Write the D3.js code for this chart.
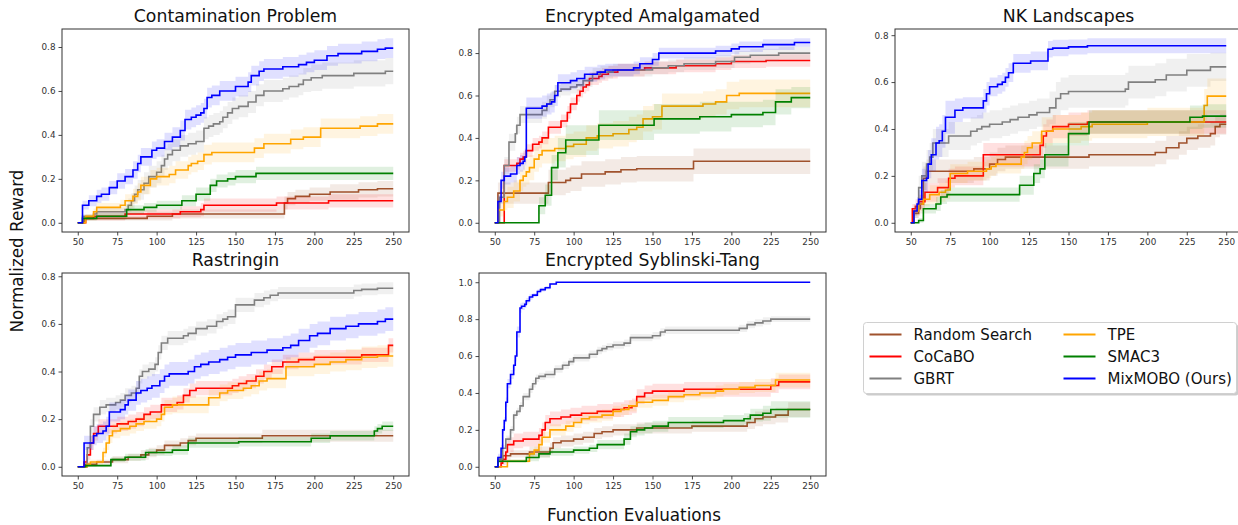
<!DOCTYPE html>
<html lang="en">
<head>
<meta charset="UTF-8">
<script src="https://cdnjs.cloudflare.com/ajax/libs/d3/7.8.5/d3.min.js"></script>
<title>Normalized Reward</title>
<style>
  body { margin: 0; background: #fff; }
  text { font-family: "DejaVu Sans", sans-serif; }
</style>
</head>
<body>
<script>
// methods in plotting order
const methods = ["Random Search", "CoCaBO", "GBRT", "TPE", "SMAC3", "MixMOBO (Ours)"];
const colors = ["#a0522d", "#ff0000", "#808080", "#ffa500", "#008000", "#0000ff"];

const xTicks = [50, 75, 100, 125, 150, 175, 200, 225, 250];
const yTicks = [0, 0.2, 0.4, 0.6, 0.8];
const yTicksSyb = [0, 0.2, 0.4, 0.6, 0.8, 1.0];

const titles = ["Contamination Problem", "Encrypted Amalgamated", "NK Landscapes",
                "Rastringin", "Encrypted Syblinski-Tang"];

// each series: [evaluation, mean reward, half band width], step after
const contamination = [
  [[50,0,0],[54,0.02,0.01],[94,0.03,0.02],[110,0.04,0.02],[181,0.09,0.03],[183,0.11,0.03],[188,0.12,0.03],[197,0.13,0.03],[210,0.14,0.035],[228,0.15,0.035],[240,0.155,0.035]],
  [[50,0,0],[55,0.02,0.01],[60,0.03,0.02],[80,0.04,0.02],[115,0.05,0.025],[128,0.06,0.03],[130,0.08,0.03],[176,0.09,0.03],[209,0.1,0.03]],
  [[50,0,0],[53,0.03,0.01],[60,0.04,0.015],[62,0.05,0.02],[80,0.06,0.025],[82,0.08,0.03],[84,0.1,0.035],[86,0.13,0.04],[88,0.15,0.045],[92,0.18,0.05],[95,0.21,0.05],[100,0.23,0.05],[103,0.26,0.05],[105,0.29,0.05],[107,0.31,0.05],[110,0.33,0.05],[115,0.35,0.05],[120,0.36,0.05],[125,0.37,0.05],[130,0.43,0.05],[133,0.44,0.05],[136,0.45,0.05],[140,0.46,0.05],[142,0.48,0.05],[145,0.5,0.05],[148,0.52,0.05],[152,0.53,0.05],[158,0.55,0.05],[163,0.58,0.05],[168,0.6,0.05],[180,0.61,0.05],[184,0.62,0.05],[190,0.63,0.05],[193,0.65,0.055],[198,0.66,0.06],[205,0.67,0.06],[225,0.68,0.06],[245,0.69,0.06]],
  [[50,0,0],[55,0.03,0.01],[60,0.05,0.015],[62,0.07,0.02],[77,0.08,0.025],[80,0.1,0.03],[85,0.12,0.035],[88,0.14,0.04],[90,0.17,0.04],[96,0.2,0.04],[100,0.21,0.04],[108,0.22,0.04],[112,0.24,0.04],[120,0.26,0.04],[122,0.27,0.04],[126,0.28,0.04],[130,0.31,0.045],[135,0.32,0.045],[162,0.34,0.045],[168,0.36,0.045],[185,0.38,0.045],[193,0.39,0.045],[204,0.43,0.045],[229,0.44,0.045],[240,0.45,0.045]],
  [[50,0,0],[53,0.02,0.01],[62,0.03,0.015],[81,0.06,0.02],[92,0.07,0.02],[100,0.08,0.02],[116,0.1,0.025],[125,0.13,0.03],[134,0.17,0.03],[138,0.19,0.03],[145,0.2,0.03],[150,0.21,0.03],[163,0.225,0.03]],
  [[50,0,0],[53,0.08,0.02],[57,0.1,0.025],[62,0.12,0.03],[65,0.13,0.03],[70,0.16,0.03],[75,0.19,0.035],[80,0.21,0.035],[85,0.24,0.04],[88,0.27,0.04],[90,0.3,0.04],[97,0.33,0.04],[100,0.34,0.04],[105,0.37,0.04],[110,0.39,0.045],[115,0.42,0.045],[118,0.47,0.045],[122,0.48,0.045],[125,0.49,0.045],[128,0.5,0.045],[130,0.52,0.045],[132,0.57,0.045],[135,0.58,0.045],[140,0.6,0.045],[150,0.62,0.045],[158,0.64,0.045],[160,0.67,0.045],[165,0.69,0.045],[168,0.7,0.045],[180,0.71,0.045],[190,0.72,0.045],[195,0.73,0.045],[200,0.74,0.045],[208,0.76,0.045],[215,0.77,0.045],[230,0.78,0.045],[240,0.79,0.045],[245,0.795,0.045]]
];

const amalgamated = [
  [[50,0,0],[52,0.14,0.05],[84,0.19,0.06],[95,0.2,0.06],[98,0.21,0.06],[105,0.23,0.06],[120,0.24,0.06],[130,0.25,0.06],[140,0.255,0.06],[176,0.29,0.06]],
  [[50,0,0],[56,0.27,0.03],[64,0.28,0.03],[66,0.3,0.03],[68,0.31,0.03],[70,0.34,0.03],[74,0.37,0.03],[78,0.38,0.03],[80,0.4,0.03],[84,0.45,0.03],[92,0.48,0.03],[96,0.52,0.03],[98,0.56,0.03],[102,0.6,0.03],[104,0.62,0.03],[106,0.64,0.03],[108,0.65,0.03],[110,0.68,0.03],[116,0.69,0.03],[118,0.7,0.03],[122,0.71,0.03],[128,0.72,0.03],[145,0.73,0.03],[165,0.74,0.03],[190,0.75,0.03],[200,0.76,0.03],[222,0.765,0.03]],
  [[50,0,0],[53,0.12,0.03],[56,0.27,0.04],[59,0.38,0.04],[63,0.42,0.04],[64,0.46,0.04],[66,0.51,0.04],[80,0.53,0.04],[83,0.56,0.04],[85,0.58,0.035],[88,0.62,0.03],[92,0.63,0.03],[98,0.64,0.03],[102,0.65,0.03],[106,0.67,0.03],[112,0.7,0.03],[117,0.71,0.03],[125,0.72,0.03],[150,0.73,0.03],[160,0.74,0.03],[170,0.75,0.03],[190,0.76,0.03],[202,0.78,0.03],[212,0.79,0.03],[230,0.8,0.03]],
  [[50,0,0],[52,0.06,0.03],[56,0.1,0.04],[58,0.12,0.05],[62,0.15,0.05],[66,0.2,0.05],[68,0.22,0.05],[70,0.24,0.06],[72,0.26,0.06],[75,0.3,0.06],[78,0.32,0.06],[80,0.34,0.06],[88,0.35,0.06],[95,0.36,0.06],[100,0.37,0.06],[108,0.4,0.06],[115,0.41,0.06],[125,0.42,0.06],[135,0.44,0.06],[140,0.45,0.06],[144,0.49,0.06],[150,0.5,0.06],[156,0.55,0.06],[182,0.56,0.06],[190,0.57,0.06],[197,0.6,0.065],[205,0.61,0.065]],
  [[50,0,0],[78,0.08,0.04],[82,0.13,0.05],[86,0.26,0.06],[90,0.33,0.07],[95,0.39,0.07],[116,0.46,0.07],[151,0.49,0.07],[180,0.5,0.07],[200,0.51,0.06],[220,0.52,0.06],[228,0.57,0.06],[238,0.59,0.05]],
  [[50,0,0],[52,0.1,0.03],[54,0.2,0.04],[56,0.22,0.04],[60,0.23,0.04],[64,0.27,0.04],[66,0.28,0.04],[68,0.29,0.04],[69,0.31,0.04],[70,0.54,0.05],[80,0.55,0.05],[83,0.56,0.05],[86,0.57,0.05],[88,0.6,0.05],[90,0.66,0.04],[98,0.67,0.04],[102,0.68,0.04],[107,0.7,0.035],[115,0.71,0.035],[120,0.72,0.03],[138,0.73,0.03],[142,0.75,0.03],[150,0.77,0.03],[154,0.8,0.025],[190,0.81,0.025],[200,0.82,0.025],[205,0.83,0.025],[220,0.84,0.025],[240,0.85,0.02]]
];

const nkLandscapes = [
  [[50,0,0],[52,0.04,0.02],[55,0.06,0.03],[56,0.08,0.04],[58,0.19,0.05],[60,0.22,0.05],[90,0.23,0.05],[100,0.25,0.05],[105,0.27,0.05],[110,0.28,0.05],[163,0.29,0.05],[205,0.3,0.05],[212,0.32,0.05],[220,0.34,0.05],[225,0.36,0.05],[232,0.37,0.05],[240,0.38,0.05],[243,0.41,0.045],[246,0.42,0.045]],
  [[50,0,0],[51,0.06,0.02],[53,0.07,0.03],[55,0.09,0.03],[59,0.13,0.04],[67,0.15,0.04],[74,0.19,0.04],[78,0.2,0.04],[96,0.29,0.05],[132,0.33,0.05],[134,0.37,0.05],[136,0.39,0.05],[140,0.41,0.05],[150,0.42,0.05],[162,0.43,0.05]],
  [[50,0,0],[52,0.05,0.03],[55,0.15,0.05],[57,0.2,0.06],[60,0.25,0.06],[62,0.28,0.06],[64,0.34,0.06],[74,0.37,0.06],[88,0.39,0.06],[92,0.4,0.06],[95,0.41,0.06],[100,0.42,0.06],[108,0.43,0.06],[113,0.44,0.06],[118,0.45,0.06],[125,0.46,0.06],[130,0.47,0.06],[138,0.49,0.07],[142,0.53,0.07],[145,0.55,0.07],[150,0.56,0.07],[186,0.57,0.07],[188,0.6,0.07],[205,0.61,0.07],[212,0.63,0.07],[225,0.65,0.07],[240,0.665,0.06]],
  [[50,0,0],[52,0.05,0.02],[55,0.08,0.03],[58,0.1,0.03],[62,0.12,0.04],[68,0.13,0.04],[72,0.14,0.04],[75,0.21,0.04],[86,0.22,0.04],[98,0.23,0.04],[101,0.24,0.04],[104,0.25,0.04],[120,0.28,0.05],[122,0.3,0.05],[124,0.32,0.05],[127,0.34,0.05],[133,0.39,0.06],[140,0.4,0.06],[158,0.41,0.06],[165,0.42,0.06],[200,0.43,0.06],[236,0.5,0.07],[238,0.54,0.075]],
  [[50,0,0],[55,0.01,0.01],[58,0.06,0.02],[66,0.08,0.03],[69,0.11,0.03],[73,0.12,0.03],[119,0.16,0.04],[128,0.21,0.04],[132,0.23,0.04],[135,0.29,0.05],[150,0.38,0.05],[163,0.43,0.05],[227,0.45,0.05],[235,0.455,0.05]],
  [[50,0,0],[52,0.05,0.02],[54,0.08,0.03],[55,0.1,0.04],[57,0.18,0.05],[60,0.19,0.06],[61,0.25,0.06],[63,0.29,0.07],[66,0.34,0.07],[68,0.35,0.07],[70,0.39,0.07],[72,0.45,0.07],[78,0.48,0.05],[83,0.49,0.045],[96,0.52,0.05],[98,0.55,0.05],[100,0.58,0.04],[105,0.59,0.04],[108,0.6,0.04],[110,0.62,0.04],[112,0.64,0.04],[115,0.68,0.04],[126,0.69,0.04],[137,0.74,0.035],[140,0.745,0.035],[150,0.75,0.032],[162,0.755,0.032]]
];

const rastringin = [
  [[50,0,0],[55,0.01,0.01],[62,0.02,0.01],[72,0.03,0.015],[82,0.04,0.015],[90,0.05,0.02],[95,0.06,0.02],[100,0.07,0.02],[105,0.09,0.02],[115,0.1,0.02],[120,0.11,0.02],[125,0.12,0.02],[167,0.13,0.025]],
  [[50,0,0],[54,0.02,0.01],[56,0.05,0.02],[58,0.1,0.03],[60,0.14,0.03],[63,0.17,0.03],[75,0.18,0.03],[82,0.19,0.03],[87,0.2,0.03],[92,0.22,0.03],[96,0.23,0.03],[103,0.26,0.03],[113,0.27,0.03],[117,0.3,0.03],[121,0.32,0.03],[125,0.33,0.03],[148,0.34,0.03],[152,0.35,0.03],[157,0.36,0.03],[163,0.38,0.03],[168,0.4,0.03],[173,0.42,0.03],[180,0.44,0.03],[190,0.45,0.03],[200,0.46,0.03],[230,0.47,0.03],[247,0.51,0.03]],
  [[50,0,0],[56,0.08,0.02],[58,0.17,0.03],[60,0.22,0.03],[64,0.25,0.03],[68,0.26,0.03],[74,0.27,0.03],[77,0.28,0.03],[80,0.3,0.03],[84,0.31,0.03],[87,0.33,0.03],[89,0.38,0.03],[91,0.4,0.03],[95,0.41,0.03],[99,0.43,0.03],[101,0.48,0.03],[103,0.52,0.03],[107,0.54,0.03],[117,0.55,0.03],[120,0.56,0.03],[125,0.58,0.03],[132,0.59,0.03],[138,0.61,0.03],[142,0.62,0.03],[145,0.63,0.03],[150,0.68,0.03],[162,0.7,0.03],[168,0.71,0.03],[172,0.72,0.025],[177,0.73,0.025],[225,0.74,0.025],[230,0.745,0.025],[240,0.75,0.025]],
  [[50,0,0],[56,0.01,0.01],[58,0.02,0.01],[66,0.06,0.02],[68,0.1,0.03],[70,0.13,0.03],[72,0.15,0.03],[77,0.16,0.03],[83,0.17,0.03],[87,0.18,0.03],[92,0.19,0.03],[100,0.2,0.03],[103,0.22,0.03],[105,0.25,0.03],[110,0.26,0.035],[133,0.29,0.035],[140,0.31,0.035],[145,0.32,0.035],[155,0.33,0.035],[160,0.34,0.035],[165,0.36,0.04],[170,0.37,0.04],[182,0.42,0.04],[200,0.43,0.04],[210,0.44,0.04],[220,0.45,0.045],[230,0.46,0.045],[240,0.465,0.045]],
  [[50,0,0],[55,0.005,0.005],[71,0.03,0.01],[80,0.04,0.015],[93,0.06,0.015],[110,0.07,0.02],[120,0.1,0.02],[152,0.105,0.02],[198,0.12,0.02],[210,0.13,0.02],[238,0.15,0.02],[240,0.16,0.02],[243,0.17,0.02]],
  [[50,0,0],[54,0.1,0.03],[60,0.13,0.04],[62,0.14,0.04],[66,0.15,0.04],[68,0.17,0.04],[70,0.23,0.04],[77,0.24,0.04],[80,0.26,0.04],[82,0.28,0.045],[87,0.31,0.05],[90,0.32,0.05],[94,0.33,0.05],[97,0.34,0.05],[102,0.36,0.05],[105,0.38,0.05],[108,0.39,0.05],[120,0.4,0.05],[124,0.42,0.05],[128,0.43,0.05],[133,0.44,0.05],[140,0.45,0.05],[145,0.46,0.05],[150,0.47,0.05],[160,0.48,0.05],[170,0.49,0.05],[180,0.5,0.05],[185,0.51,0.05],[190,0.53,0.05],[197,0.55,0.05],[202,0.56,0.05],[210,0.58,0.05],[220,0.59,0.05],[228,0.6,0.05],[240,0.61,0.05],[245,0.62,0.05]]
];

const syblinskiTang = [
  [[50,0,0],[52,0.04,0.02],[55,0.06,0.02],[60,0.07,0.02],[72,0.08,0.03],[85,0.1,0.03],[87,0.13,0.03],[92,0.14,0.03],[100,0.15,0.03],[106,0.16,0.03],[113,0.18,0.03],[118,0.19,0.03],[125,0.2,0.03],[140,0.21,0.03],[175,0.22,0.03],[210,0.24,0.035],[215,0.26,0.04],[220,0.27,0.04],[228,0.28,0.04],[236,0.31,0.04]],
  [[50,0,0],[54,0.02,0.02],[55,0.04,0.03],[57,0.08,0.04],[58,0.12,0.04],[62,0.14,0.04],[68,0.15,0.04],[78,0.17,0.04],[80,0.2,0.04],[82,0.24,0.04],[85,0.26,0.04],[92,0.27,0.04],[98,0.28,0.04],[105,0.29,0.04],[115,0.3,0.04],[125,0.31,0.04],[132,0.32,0.04],[137,0.33,0.04],[140,0.38,0.04],[145,0.4,0.04],[150,0.41,0.04],[170,0.42,0.04],[225,0.44,0.04],[230,0.46,0.04]],
  [[50,0,0],[52,0.04,0.01],[55,0.1,0.02],[57,0.15,0.02],[60,0.2,0.02],[62,0.28,0.02],[64,0.3,0.02],[66,0.33,0.02],[68,0.38,0.02],[72,0.42,0.02],[74,0.45,0.02],[76,0.48,0.02],[78,0.49,0.02],[82,0.5,0.02],[88,0.53,0.02],[93,0.55,0.02],[97,0.57,0.02],[100,0.59,0.02],[110,0.61,0.02],[115,0.63,0.02],[118,0.64,0.02],[121,0.65,0.02],[125,0.66,0.02],[132,0.67,0.02],[136,0.7,0.02],[150,0.71,0.02],[155,0.73,0.02],[158,0.74,0.02],[205,0.75,0.02],[210,0.77,0.02],[215,0.78,0.02],[220,0.79,0.02],[225,0.8,0.015]],
  [[50,0,0],[58,0.03,0.01],[72,0.07,0.02],[75,0.09,0.02],[78,0.12,0.03],[80,0.16,0.03],[85,0.2,0.03],[95,0.22,0.03],[100,0.24,0.03],[105,0.26,0.03],[110,0.27,0.03],[118,0.28,0.03],[125,0.3,0.03],[130,0.31,0.03],[135,0.33,0.03],[140,0.35,0.03],[150,0.36,0.03],[160,0.38,0.03],[170,0.39,0.03],[180,0.4,0.03],[190,0.41,0.03],[195,0.42,0.03],[205,0.43,0.03],[215,0.44,0.035],[228,0.47,0.04]],
  [[50,0,0],[52,0.03,0.01],[70,0.05,0.02],[78,0.07,0.02],[85,0.08,0.02],[100,0.09,0.02],[110,0.1,0.02],[115,0.12,0.025],[132,0.15,0.03],[136,0.19,0.03],[140,0.2,0.03],[145,0.21,0.03],[150,0.22,0.03],[160,0.24,0.03],[195,0.25,0.03],[208,0.26,0.03],[212,0.28,0.035],[220,0.29,0.04],[225,0.31,0.045]],
  [[50,0,0],[52,0.05,0.02],[54,0.1,0.02],[55,0.2,0.02],[56,0.25,0.02],[57,0.35,0.025],[58,0.45,0.025],[60,0.5,0.025],[62,0.55,0.03],[63,0.6,0.03],[64,0.73,0.03],[66,0.86,0.025],[67,0.87,0.02],[69,0.88,0.02],[70,0.9,0.015],[72,0.92,0.015],[74,0.93,0.01],[77,0.95,0.01],[79,0.96,0.01],[82,0.97,0.01],[85,0.99,0.005],[89,1.0,0]]
];

const panelData = [contamination, amalgamated, nkLandscapes, rastringin, syblinskiTang];
const panelYTicks = [yTicks, yTicks, yTicks, yTicks, yTicksSyb];

// layout
const W = 1238, H = 525;
const colLeft = [62, 479, 895];
const rowTop = [29, 273];
const pw = 347, ph = 203;
const xEnd = 250;

const svg = d3.select("body").append("svg")
    .attr("width", W).attr("height", H)
    .style("display", "block");
svg.append("rect").attr("width", W).attr("height", H).attr("fill", "#fff");

panelData.forEach(function(series, p) {
    const left = colLeft[p % 3], top = rowTop[Math.floor(p / 3)];
    const g = svg.append("g").attr("transform", "translate(" + left + "," + top + ")");

    const x = d3.scaleLinear().domain([40, 260]).range([0, pw]);
    // matplotlib-like 5% margins from band extents
    const lo = d3.min(series, s => d3.min(s, d => Math.max(0, d[1] - d[2])));
    const hi = d3.max(series, s => d3.max(s, d => d[1] + d[2]));
    const pad = (hi - lo) * 0.05;
    const y = d3.scaleLinear().domain([lo - pad, hi + pad]).range([ph, 0]);

    const withEnd = s => s.concat([[xEnd, s[s.length - 1][1], s[s.length - 1][2]]]);

    const area = d3.area()
        .curve(d3.curveStepAfter)
        .x(d => x(d[0]))
        .y0(d => y(Math.max(0, d[1] - d[2])))
        .y1(d => y(d[1] + d[2]));
    const line = d3.line()
        .curve(d3.curveStepAfter)
        .x(d => x(d[0]))
        .y(d => y(d[1]));

    series.forEach(function(s, i) {
        const pts = withEnd(s);
        g.append("path").attr("d", area(pts))
            .attr("fill", colors[i]).attr("fill-opacity", 0.12);
        g.append("path").attr("d", line(pts))
            .attr("fill", "none").attr("stroke", colors[i]).attr("stroke-width", 1.6);
    });

    // axes
    const xAxis = d3.axisBottom(x).tickValues(xTicks).tickSize(3.5).tickPadding(3);
    const yAxis = d3.axisLeft(y).tickValues(panelYTicks[p]).tickFormat(d3.format(".1f")).tickSize(3.5).tickPadding(3);
    const gx = g.append("g").attr("transform", "translate(0," + ph + ")").call(xAxis);
    const gy = g.append("g").call(yAxis);
    [gx, gy].forEach(function(a) {
        a.select(".domain").remove();
        a.selectAll("line").attr("stroke", "#333").attr("stroke-width", 0.9);
        a.selectAll("text").attr("fill", "#333").style("font-size", "8.8px")
            .style("font-family", "DejaVu Sans");
    });

    g.append("rect").attr("x", 0).attr("y", 0).attr("width", pw).attr("height", ph)
        .attr("fill", "none").attr("stroke", "#333").attr("stroke-width", 1);

    g.append("text").attr("x", pw / 2).attr("y", -7)
        .attr("text-anchor", "middle").style("font-size", "17.3px").attr("fill", "#111")
        .text(titles[p]);
});

// shared labels
svg.append("text")
    .attr("transform", "translate(23,251) rotate(-90)")
    .attr("text-anchor", "middle").style("font-size", "16.8px").attr("fill", "#111")
    .text("Normalized Reward");
svg.append("text")
    .attr("x", 634).attr("y", 521)
    .attr("text-anchor", "middle").style("font-size", "16.8px").attr("fill", "#111")
    .text("Function Evaluations");

// legend
const legend = svg.append("g").attr("transform", "translate(863.5,322.5)");
legend.append("rect").attr("x", 2).attr("y", 2).attr("width", 373).attr("height", 71)
    .attr("rx", 3).attr("fill", "#999").attr("opacity", 0.5);
legend.append("rect").attr("width", 373).attr("height", 71).attr("rx", 3)
    .attr("fill", "#fff").attr("stroke", "#d0d0d0");
methods.forEach(function(m, i) {
    const cx = i < 3 ? 6 : 200, cy = 12 + (i % 3) * 22;
    legend.append("line").attr("x1", cx).attr("x2", cx + 32).attr("y1", cy).attr("y2", cy)
        .attr("stroke", colors[i]).attr("stroke-width", 2);
    legend.append("text").attr("x", cx + 44).attr("y", cy + 5.5)
        .style("font-size", "15px").attr("fill", "#111").text(m);
});
</script>
</body>
</html>
